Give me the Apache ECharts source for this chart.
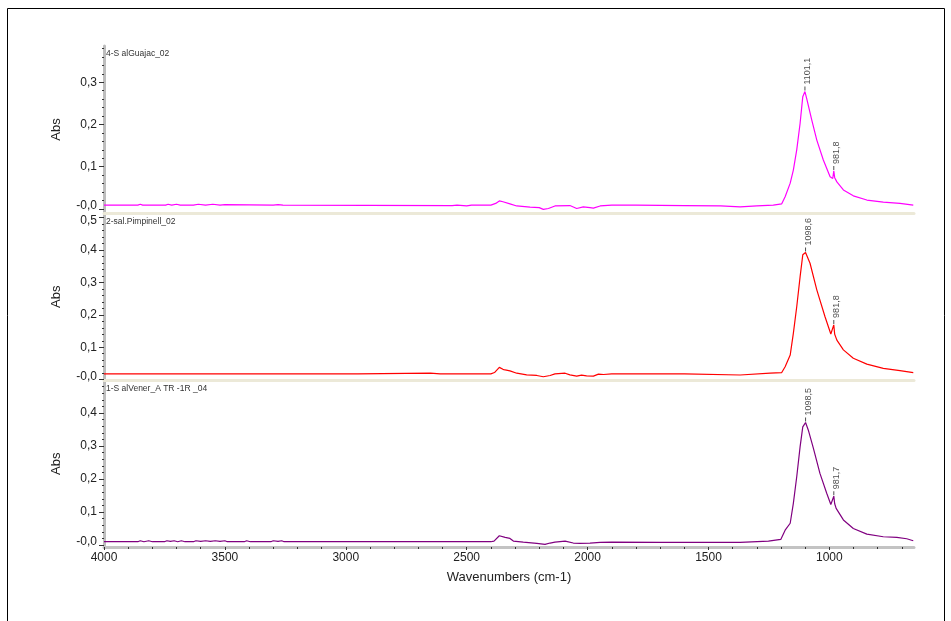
<!DOCTYPE html>
<html>
<head>
<meta charset="utf-8">
<script src="https://cdn.jsdelivr.net/npm/echarts@6/dist/echarts.min.js"></script>
<style>
html,body{margin:0;padding:0;background:#fff;}
#chart{width:951px;height:621px;}
</style>
</head>
<body>
<div id="chart"></div>
<script>
// ---- data ----
const sampleNames = ['4-S alGuajac_02', '2-sal.Pimpinell_02', '1-S alVener_A TR -1R _04'];
const seriesColors = ['#ff00ff', '#ff0000', '#800080'];

const wnTop = [4000, 3860, 3850, 3840, 3745, 3735, 3720, 3700, 3685, 3630, 3610, 3580, 3550, 3520, 3500, 3300, 3280, 3260, 2560, 2540, 2500, 2480, 2400, 2380, 2365, 2350, 2321, 2293, 2238, 2200, 2183, 2162, 2135, 2073, 2045, 2018, 1990, 1976, 1948, 1900, 1800, 1600, 1450, 1369, 1300, 1232, 1197, 1183, 1162, 1149, 1135, 1121, 1110, 1101.1, 1094, 1073, 1052, 1025, 997, 986, 981.8, 978, 969, 942, 901, 845, 777, 708, 653];
const absTop = [0.009, 0.009, 0.011, 0.009, 0.009, 0.011, 0.009, 0.011, 0.009, 0.009, 0.011, 0.009, 0.011, 0.009, 0.010, 0.009, 0.010, 0.009, 0.008, 0.009, 0.007, 0.009, 0.009, 0.013, 0.019, 0.017, 0.012, 0.007, 0.004, 0.003, -0.001, 0.001, 0.007, 0.008, 0.001, 0.005, 0.003, 0.002, 0.007, 0.009, 0.009, 0.008, 0.007, 0.005, 0.007, 0.009, 0.012, 0.029, 0.061, 0.092, 0.14, 0.203, 0.266, 0.278, 0.262, 0.211, 0.163, 0.116, 0.076, 0.072, 0.09, 0.074, 0.064, 0.045, 0.031, 0.021, 0.016, 0.013, 0.009];

const wnMid = [4000, 3700, 3300, 2950, 2650, 2610, 2400, 2385, 2365, 2350, 2341, 2321, 2293, 2252, 2210, 2183, 2155, 2135, 2093, 2073, 2045, 2025, 2004, 1976, 1955, 1934, 1900, 1600, 1369, 1245, 1197, 1183, 1162, 1149, 1135, 1121, 1110, 1098.6, 1080, 1052, 1018, 994, 986, 981.8, 978, 969, 942, 901, 845, 777, 708, 653];
const absMid = [0.018, 0.018, 0.018, 0.018, 0.02, 0.018, 0.018, 0.022, 0.038, 0.032, 0.03, 0.027, 0.02, 0.015, 0.013, 0.009, 0.013, 0.018, 0.02, 0.015, 0.011, 0.014, 0.012, 0.011, 0.017, 0.016, 0.018, 0.018, 0.0145, 0.02, 0.022, 0.04, 0.076, 0.143, 0.225, 0.318, 0.385, 0.392, 0.359, 0.277, 0.194, 0.141, 0.135, 0.169, 0.14, 0.122, 0.092, 0.066, 0.048, 0.035, 0.028, 0.022];

const wnBot = [4000, 3860, 3850, 3835, 3815, 3800, 3750, 3740, 3725, 3710, 3695, 3680, 3665, 3630, 3620, 3600, 3580, 3560, 3540, 3520, 3500, 3490, 3420, 3410, 3395, 3310, 3300, 3280, 3265, 3255, 2400, 2387, 2365, 2341, 2321, 2307, 2266, 2210, 2176, 2155, 2135, 2093, 2059, 2031, 1990, 1948, 1900, 1700, 1500, 1369, 1252, 1201, 1183, 1162, 1149, 1135, 1121, 1110, 1098.5, 1087, 1066, 1039, 1011, 994, 986, 981.7, 978, 972, 942, 901, 845, 777, 721, 680, 653];
const absBot = [0.01, 0.01, 0.013, 0.01, 0.013, 0.01, 0.01, 0.013, 0.011, 0.013, 0.01, 0.013, 0.01, 0.01, 0.013, 0.011, 0.013, 0.011, 0.013, 0.011, 0.013, 0.01, 0.01, 0.013, 0.01, 0.01, 0.013, 0.011, 0.013, 0.01, 0.01, 0.012, 0.028, 0.023, 0.02, 0.012, 0.009, 0.005, 0.002, 0.006, 0.009, 0.012, 0.006, 0.005, 0.006, 0.008, 0.009, 0.008, 0.008, 0.008, 0.012, 0.017, 0.045, 0.066, 0.126, 0.207, 0.298, 0.358, 0.371, 0.348, 0.293, 0.217, 0.157, 0.123, 0.12, 0.148, 0.125, 0.111, 0.076, 0.05, 0.033, 0.025, 0.023, 0.019, 0.013];

const peaksTop = [1101.1, 981.8];
const peaksMid = [1098.6, 981.8];
const peaksBot = [1098.5, 981.7];

const xTicks = [4000, 3500, 3000, 2500, 2000, 1500, 1000];
const yTicksTop = [0, 0.1, 0.2, 0.3];
const yTicksMid = [0, 0.1, 0.2, 0.3, 0.4, 0.5];
const yTicksBot = [0, 0.1, 0.2, 0.3, 0.4];
const yRanges = [[-0.0097, 0.386], [-0.0025, 0.514], [-0.006, 0.4985]];
const xRange = [650, 4000];

// ---- layout ----
const panels = [
  {top: 46, height: 167, wn: wnTop, abs: absTop, peaks: peaksTop, ticks: yTicksTop},
  {top: 213, height: 167.5, wn: wnMid, abs: absMid, peaks: peaksMid, ticks: yTicksMid},
  {top: 380.5, height: 166.5, wn: wnBot, abs: absBot, peaks: peaksBot, ticks: yTicksBot}
];

function minorList(max) {
  const out = [];
  for (let i = 0; i * 0.02 <= max + 1e-9; i++) out.push(+(i * 0.02).toFixed(2));
  return out;
}
const xMinor = [];
for (let w = 700; w <= 4000; w += 100) xMinor.push(w);

const FONT = 'Arial, "Liberation Sans", sans-serif';
const grids = [], xAxes = [], yAxes = [], series = [];

panels.forEach((p, i) => {
  grids.push({left: 104, width: 810, top: p.top, height: p.height, containLabel: false});
  const isBottom = i === 2;
  const maxTick = p.ticks[p.ticks.length - 1];
  xAxes.push({
    type: 'value', gridIndex: i, min: xRange[0], max: xRange[1], inverse: true, position: 'bottom',
    axisLine: {show: true, onZero: false, lineStyle: {color: isBottom ? '#c3c3c3' : '#ece9d8', width: 3}},
    axisTick: {show: isBottom, customValues: xTicks, length: 3, lineStyle: {color: '#333'}},
    axisLabel: {show: isBottom, customValues: xTicks, fontSize: 12, color: '#222', margin: 5, fontFamily: FONT,
      formatter: v => String(Math.round(v))},
    splitLine: {show: false},
    name: isBottom ? 'Wavenumbers (cm-1)' : '',
    nameLocation: 'middle', nameGap: 24,
    nameTextStyle: {fontSize: 13, color: '#222', fontFamily: FONT}
  });
  yAxes.push({
    type: 'value', gridIndex: i, min: yRanges[i][0], max: yRanges[i][1], position: 'left',
    axisLine: {show: true, onZero: false, lineStyle: {color: '#bdbdbd', width: 3}},
    axisTick: {show: true, customValues: p.ticks, length: 5, lineStyle: {color: '#333'}},
    axisLabel: {
      customValues: p.ticks, fontSize: 12, color: '#222', margin: 7, fontFamily: FONT,
      formatter: v => {
        if (v === 0) return '{lo|-0,0}';
        const s = v.toFixed(1).replace('.', ',');
        return (i === 1 && v === maxTick) ? '{hi|' + s + '}' : s;
      },
      rich: {
        lo: {fontSize: 12, color: '#222', fontFamily: FONT, padding: [0, 0, 6, 0]},
        hi: {fontSize: 12, color: '#222', fontFamily: FONT, padding: [6, 0, 0, 0]}
      }
    },
    splitLine: {show: false},
    name: 'Abs', nameLocation: 'middle', nameGap: 41,
    nameTextStyle: {fontSize: 13, color: '#222', fontFamily: FONT}
  });
  series.push({
    type: 'line', xAxisIndex: i, yAxisIndex: i,
    data: p.wn.map((w, k) => [w, p.abs[k]]),
    showSymbol: false, symbol: 'none',
    lineStyle: {color: seriesColors[i], width: 1.2},
    silent: true, z: 5
  });
  series.push({
    type: 'scatter', xAxisIndex: i, yAxisIndex: i,
    data: p.peaks.map(w => [w, p.abs[p.wn.indexOf(w)]]),
    symbol: 'rect', symbolSize: [1, 4], symbolOffset: [0, -3],
    itemStyle: {color: '#222'},
    label: {
      show: true, position: 'top', distance: 2, rotate: 90,
      align: 'left', verticalAlign: 'middle', offset: [0, 3],
      formatter: q => q.value[0].toFixed(1).replace('.', ','),
      fontSize: 9, color: '#222', fontFamily: FONT
    },
    silent: true, z: 6
  });
});

// minor tick axes
panels.forEach((p, i) => {
  yAxes.push({
    type: 'value', gridIndex: i, min: yRanges[i][0], max: yRanges[i][1], position: 'left',
    axisLine: {show: false}, axisLabel: {show: false}, splitLine: {show: false},
    axisTick: {show: true, customValues: minorList(yRanges[i][1]), length: 2, lineStyle: {color: '#333'}}
  });
});
xAxes.push({
  type: 'value', gridIndex: 2, min: xRange[0], max: xRange[1], inverse: true, position: 'bottom',
  axisLine: {show: false, onZero: false}, axisLabel: {show: false}, splitLine: {show: false},
  axisTick: {show: true, customValues: xMinor, length: 2, lineStyle: {color: '#333'}}
});

const nameTops = [49, 217, 384];
const graphic = [
  {type: 'rect', shape: {x: 7.5, y: 8.5, width: 937, height: 620}, style: {fill: 'none', stroke: '#000', lineWidth: 1}, silent: true, z: 0}
];
sampleNames.forEach((n, i) => {
  graphic.push({type: 'text', left: 106, top: nameTops[i], style: {text: n, fontSize: 8.5, fill: '#333', font: '8.5px ' + FONT}, silent: true, z: 10});
});

const chart = echarts.init(document.getElementById('chart'), null, {renderer: 'canvas'});
chart.setOption({
  animation: false,
  backgroundColor: '#ffffff',
  grid: grids, xAxis: xAxes, yAxis: yAxes, series: series, graphic: graphic
});
</script>
</body>
</html>
